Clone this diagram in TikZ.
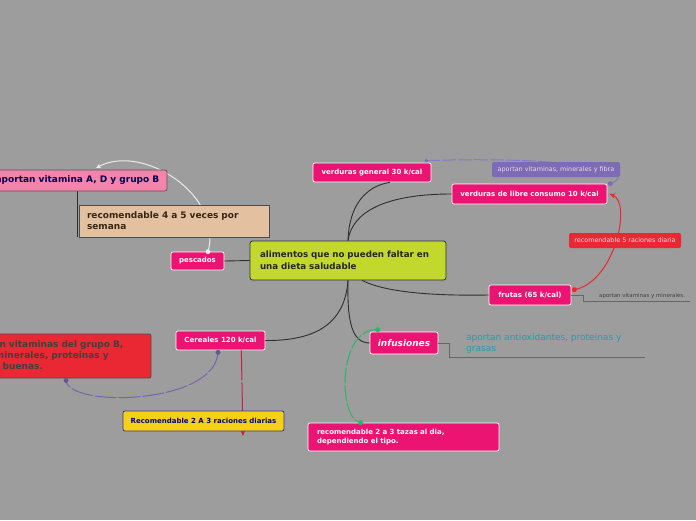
\documentclass[tikz,border=0pt]{standalone}
\usepackage{fontspec}
\setmainfont{DejaVu Sans}
\usetikzlibrary{arrows.meta}

\definecolor{fondo}{HTML}{9D9D9D}
\definecolor{rosa}{HTML}{EC1472}
\definecolor{lima}{HTML}{C2D82C}
\definecolor{lila}{HTML}{7E6BB5}
\definecolor{lilaclaro}{HTML}{8A78C8}
\definecolor{rojo}{HTML}{EA2834}
\definecolor{rosaclaro}{HTML}{F484AC}
\definecolor{canela}{HTML}{E2C0A0}
\definecolor{amarillo}{HTML}{F6D016}
\definecolor{turquesa}{HTML}{1F9FAA}
\definecolor{verde}{HTML}{2DB467}
\definecolor{carmin}{HTML}{C81E46}
\definecolor{linea}{HTML}{2E2E2E}

\begin{document}
\begin{tikzpicture}[x=1pt,y=-1pt,
    rama/.style={draw=white, line width=0.7pt, rounded corners=2pt, fill=rosa,
        text=white, font=\bfseries\fontsize{7}{8.5}\selectfont, inner sep=0pt},
    etiqueta/.style={rounded corners=2pt, text=white!88!black, inner sep=0pt,
        font=\fontsize{6.4}{7.5}\selectfont},
    caja/.style={line width=0.8pt, inner sep=0pt, align=left,
        font=\bfseries\fontsize{9}{11}\selectfont},
    conector/.style={draw=linea, line width=0.9pt},
    guia/.style={draw=black!60, line width=0.9pt},
    punto/.style={circle, inner sep=0pt, minimum size=4.4pt}]

    \useasboundingbox[fill=fondo] (0,0) rectangle (696,520);

    % nodos
    \node[caja, draw=linea, fill=lima, rounded corners=2.5pt, text=black!85,
        minimum width=196pt, minimum height=39pt, text width=176pt,
        font=\bfseries\fontsize{8.7}{11.5}\selectfont] (centro) at (348,260.5)
        {alimentos que no pueden faltar en\\una dieta saludable};
    \node[rama, minimum width=118pt, minimum height=19pt] (vgeneral) at (372,172.5) {verduras general 30 k/cal};
    \node[rama, minimum width=155pt, minimum height=20pt] (vlibre) at (529.5,194) {verduras de libre consumo 10 k/cal};
    \node[rama, minimum width=82pt, minimum height=20pt] (frutas) at (530,295) {frutas (65 k/cal)};
    \node[rama, minimum width=68pt, minimum height=22pt,
        font=\bfseries\itshape\fontsize{9}{11}\selectfont] (infusiones) at (404,343) {infusiones};
    \node[rama, minimum width=191pt, minimum height=28pt, text width=173pt, align=left,
        font=\bfseries\fontsize{7}{9.5}\selectfont] (tazas) at (403.5,437)
        {recomendable 2 a 3 tazas al dia,\\dependiendo el tipo.};
    \node[rama, minimum width=89pt, minimum height=19pt] (cereales) at (220.5,340.5) {Cereales 120 k/cal};
    \node[rama, minimum width=53pt, minimum height=18pt] (pescados) at (197.5,261) {pescados};

    % lineas de fondo
    \draw[conector] (pescados.east) -- (centro.west);
    \draw[conector] (centro.north) .. controls (349,205) and (366,186) .. ([xshift=18pt]vgeneral.south);
    \draw[conector] (centro.north) .. controls (352,212) and (385,194) .. (vlibre.west);
    \draw[conector] ([xshift=14pt]centro.south) .. controls (385,292) and (430,296) .. (frutas.west);
    \draw[conector] (centro.south) .. controls (347,322) and (352,343) .. (infusiones.west);
    \draw[conector] (centro.south) .. controls (345,322) and (318,341) .. (cereales.east);

    \draw[white!92!black, line width=1pt, -{Stealth[length=5pt,width=4.5pt]}]
        ([xshift=10.5pt]pescados.north) .. controls (224,195) and (142,143) .. (96,168);
    \filldraw[white!92!black] ([xshift=10.5pt]pescados.north) circle (2.2pt);

    \draw[lilaclaro, line width=1pt, dash pattern=on 14pt off 2pt]
        ([xshift=3pt]vlibre.north east) .. controls (645,170) and (560,156) .. ([xshift=-5pt,yshift=2pt]vgeneral.north east);
    \filldraw[lila] ([xshift=3pt]vlibre.north east) circle (2.2pt);
    \filldraw[lila] ([xshift=-5pt,yshift=2pt]vgeneral.north east) circle (1.5pt);

    \draw[rojo, line width=1pt, -{Stealth[length=6pt,width=5pt]}]
        ([xshift=3pt,yshift=-5pt]frutas.north east) .. controls (615,282) and (632,202) .. ([xshift=2pt]vlibre.east);
    \filldraw[rojo] ([xshift=3pt,yshift=-5pt]frutas.north east) circle (2.2pt);

    \draw[verde, line width=1pt, dash pattern=on 16pt off 2pt]
        ([xshift=8pt,yshift=2pt]infusiones.north west) .. controls (337,328) and (338,420) .. ([xshift=53pt]tazas.north west);
    \filldraw[verde] ([xshift=8pt,yshift=2pt]infusiones.north west) circle (2.2pt);
    \filldraw[verde] ([xshift=53pt]tazas.north west) circle (2.2pt);

    % notas
    \node[caja, draw=black!70, fill=canela, text=black!70!brown, line width=0.8pt,
        minimum width=190pt, minimum height=32pt, text width=174pt] (semana) at (174,221)
        {recomendable 4 a 5 veces por\\semana};
    \node[caja, draw=linea!80, fill=rosaclaro, text=blue!30!black, rounded corners=2pt,
        minimum width=179pt, minimum height=21pt] (vitaminaA) at (77.5,180.5)
        {aportan vitamina A, D y grupo B};
    \draw[conector] (vitaminaA.south) -- (vitaminaA.south |- semana.south);
    \node[caja, draw=black!70, fill=rojo, text=black!75, rounded corners=2pt,
        minimum width=194pt, minimum height=44pt, text width=176pt] (grupoB) at (54,356)
        {aportan vitaminas del grupo B,\\sales minerales, proteinas y\\grasas buenas.};

    \draw[carmin, line width=1pt, dash pattern=on 30pt off 2pt, -{Stealth[length=6pt,width=5pt]}]
        ([xshift=-24pt]cereales.south east) -- ([xshift=22.5pt,yshift=-5pt]cereales.south |- 0,431);
    \node[caja, draw=blue!50!black!80, fill=amarillo, text=blue!55!black, rounded corners=2pt,
        minimum width=161pt, minimum height=20pt, align=center,
        font=\bfseries\fontsize{7}{8.5}\selectfont] (raciones) at (203.5,421)
        {Recomendable 2 A 3 raciones diarias};

    \draw[lilaclaro!85!black, line width=1pt, dash pattern=on 22pt off 2pt]
        ([xshift=-2.5pt,yshift=-2pt]cereales.south) .. controls (215,405) and (68,408) .. ([xshift=12pt,yshift=-2pt]grupoB.south);
    \filldraw[lila!80!black] ([xshift=-2.5pt,yshift=-2pt]cereales.south) circle (2.2pt);
    \filldraw[lila!80!black] ([xshift=12pt,yshift=-2pt]grupoB.south) circle (2.2pt);

    \node[etiqueta, fill=lila, minimum width=128pt, minimum height=15pt] (fibra) at (556,169.5)
        {aportan vitaminas, minerales y fibra};
    \node[etiqueta, fill=rojo, minimum width=112pt, minimum height=15pt] (diaria) at (625,240.5)
        {recomendable 5 raciones diaria};

    \coordinate (finFrutas) at (690,301);
    \node[anchor=south west, inner sep=0pt, text=black!75,
        font=\fontsize{5.5}{6.5}\selectfont] (notaFrutas) at (599,299)
        {aportan vitaminas y minerales.};
    \draw[guia] (frutas.east) -- ++(12,0) |- (finFrutas);

    \coordinate (finInfusiones) at (645,357);
    \node[anchor=north west, inner sep=0pt, text=turquesa, align=left,
        font=\fontsize{9}{11}\selectfont] (notaInfusiones) at (466,333)
        {aportan antioxidantes, proteinas y\\grasas};
    \draw[guia] (infusiones.east) -- ++(11,0) |- (finInfusiones);
\end{tikzpicture}
\end{document}
